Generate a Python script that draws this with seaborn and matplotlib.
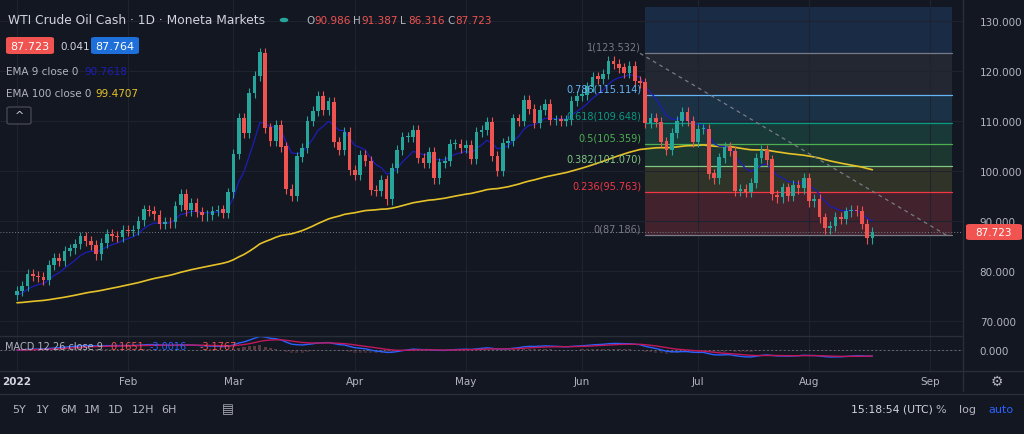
import numpy as np
import pandas as pd
import matplotlib
matplotlib.use("Agg")
import matplotlib.pyplot as plt
from matplotlib.patches import FancyBboxPatch
import seaborn as sns

# ── Data ──────────────────────────────────────────────────────────────────────
closes = [
    # Jan
    76.1, 77.0, 79.5, 79.0, 78.9, 78.2, 81.2, 82.6, 82.0, 84.0, 84.5, 85.4, 86.9, 86.0,
    85.2, 83.3, 85.6, 87.4, 87.0, 86.8, 88.2,
    # Feb
    88.0, 88.3, 90.1, 92.3, 92.0, 91.3, 89.4, 89.8, 89.7, 93.1, 95.4, 92.1, 93.6, 91.8,
    91.1, 91.2, 92.0, 92.3, 91.6, 95.7,
    # Mar
    103.4, 110.6, 107.7, 115.7, 119.0, 123.7, 108.7, 106.0, 109.3, 104.9, 96.4, 95.0,
    102.9, 104.7, 110.0, 112.1, 115.0, 112.3, 113.9, 105.9, 104.2, 107.8, 100.3,
    # Apr
    99.3, 103.3, 102.0, 96.2, 96.0, 98.3, 94.3, 100.6, 104.2, 106.9, 106.9, 108.2, 102.6,
    101.7, 103.8, 98.5, 101.7, 102.0, 105.4, 105.4, 104.7,
    # May
    105.2, 102.4, 107.8, 108.3, 109.8, 103.1, 100.0, 105.7, 106.1, 110.5, 110.1, 114.2,
    112.4, 109.6, 112.2, 113.4, 110.3, 110.3, 110.1, 110.3, 114.1, 115.1,
    # Jun
    115.3, 116.9, 118.9, 118.5, 119.4, 122.1, 121.5, 120.7, 119.6, 121.0, 118.0, 117.7,
    109.6, 110.6, 109.9, 105.9, 104.3, 107.6, 110.0, 111.8, 110.1, 105.8,
    # Jul
    108.4, 108.5, 99.5, 98.5, 102.7, 104.8, 104.0, 96.0, 96.4, 95.8, 97.6, 102.6, 104.2,
    102.3, 95.3, 94.7, 96.7, 95.0, 97.3, 96.5, 98.6,
    # Aug
    93.9, 94.4, 90.7, 88.5, 89.0, 90.8, 90.4, 91.9, 92.3, 92.0, 89.4, 86.5, 87.723,
]
first_open = 75.2
ema100_seed = 73.6
ema9_seed = 75.0

month_labels = ["2022", "Feb", "Mar", "Apr", "May", "Jun", "Jul", "Aug", "Sep"]
month_bars = [0, 21, 41, 64, 85, 107, 129, 150, 173]

price_ticks = [70, 80, 90, 100, 110, 120, 130]

fib_ratios = [0, 0.236, 0.382, 0.5, 0.618, 0.786, 1]
fib_prices = [87.186, 95.763, 101.070, 105.359, 109.648, 115.114, 123.532]
fib_top = 132.8
fib_start, fib_end = 119, 177

last_price = 87.723

# ── Derived series ────────────────────────────────────────────────────────────
df = pd.DataFrame({"bar": np.arange(len(closes)), "close": closes})
df["open"] = df["close"].shift(1).fillna(first_open)
df["high"] = df[["open", "close"]].max(axis=1) + 1.0
df["low"] = df[["open", "close"]].min(axis=1) - 1.0
df["ema100"] = pd.concat([pd.Series([ema100_seed]), df["close"]]).ewm(span=100, adjust=False).mean().iloc[1:].values
df["ema9"] = pd.concat([pd.Series([ema9_seed]), df["close"]]).ewm(span=9, adjust=False).mean().iloc[1:].values
df["macd"] = df["close"].ewm(span=12, adjust=False).mean() - df["close"].ewm(span=26, adjust=False).mean()
df["signal"] = df["macd"].ewm(span=9, adjust=False).mean()
df["hist"] = df["macd"] - df["signal"]

# ── Style ─────────────────────────────────────────────────────────────────────
BG = "#131722"
GRID = "#1f2330"
TXT = "#b2b5be"
UP, DOWN = "#26a69a", "#ef5350"
sns.set_theme(style="dark", rc={"axes.facecolor": BG, "figure.facecolor": BG,
                                "font.family": "DejaVu Sans"})

W, H = 1024, 435
fig = plt.figure(figsize=(W / 100, H / 100), dpi=100)
xl = (-17 / 5.28, 963 / 5.28 - 17 / 5.28)

ax = fig.add_axes([0, 1 - 337 / H, 963 / W, 337 / H])
mx = fig.add_axes([0, 1 - 372 / H, 963 / W, 35 / H])
for a in (ax, mx):
    a.set_facecolor(BG)
    a.set_xlim(*xl)
    for s in a.spines.values():
        s.set_visible(False)
    a.tick_params(length=0)
    a.set_xticks(month_bars)
    a.set_xticklabels([])
    a.grid(True, color=GRID, lw=0.8)

ax.set_ylim(130 - 315 / 5, 130 + 22 / 5)
ax.yaxis.tick_right()
ax.set_yticks(price_ticks)
ax.set_yticklabels([f"{p:.3f}" for p in price_ticks], color=TXT, fontsize=7.5)
ax.tick_params(axis="y", pad=12)

# Fibonacci bands
fib_cols = ["#4a2430", "#363a2a", "#1e3d32", "#1b403d", "#1d364d", "#252a36", "#1c2f4d"]
fib_lines = ["#787b86", "#f23645", "#81c784", "#4caf50", "#089981", "#64b5f6", "#787b86"]
levels = fib_prices + [fib_top]
for i in range(len(levels) - 1):
    ax.fill_between([fib_start, fib_end], levels[i], levels[i + 1],
                    color=fib_cols[i], alpha=0.85, lw=0, zorder=0)
for r, p, c in zip(fib_ratios, fib_prices, fib_lines):
    ax.plot([fib_start, fib_end], [p, p], color=c, lw=0.9, zorder=1)
    ax.text(fib_start - 0.8, p + 0.4, f"{r:g}({p:.3f})", color=c, fontsize=7,
            ha="right", va="bottom", zorder=6)
ax.plot([fib_start - 1, fib_end - 1], [fib_prices[-1], fib_prices[0]],
        color="#787b86", lw=0.9, ls=(0, (3, 3)), zorder=5)

# EMA lines
sns.lineplot(data=df, x="bar", y="ema100", ax=ax, color="#e6c229", lw=1.2, zorder=3)
sns.lineplot(data=df, x="bar", y="ema9", ax=ax, color="#1d1db8", lw=0.9, zorder=3)

# Candles
up = df["close"] >= df["open"]
cols = np.where(up, UP, DOWN)
ax.vlines(df["bar"], df["low"], df["high"], colors=cols, lw=0.8, zorder=4)
ax.bar(df["bar"], (df["close"] - df["open"]).abs().clip(lower=0.15),
       bottom=df[["open", "close"]].min(axis=1), width=0.7, color=cols,
       edgecolor="none", linewidth=0, zorder=4)

ax.axhline(last_price, color="#787b86", lw=0.7, ls=(0, (1, 2)), zorder=2)
ax.set_xlabel("")
ax.set_ylabel("")

# MACD pane
mx.set_ylim(-12, 8)
mx.yaxis.tick_right()
mx.set_yticks([0])
mx.set_yticklabels(["0.000"], color=TXT, fontsize=7.5)
mx.tick_params(axis="y", pad=12)
mx.bar(df["bar"], df["hist"], width=0.6, edgecolor="none", linewidth=0,
       color=np.where(df["hist"] >= 0, "#5b3a3f", "#3b2a33"), zorder=2)
sns.lineplot(data=df, x="bar", y="macd", ax=mx, color="#2962ff", lw=1.0, zorder=3)
sns.lineplot(data=df, x="bar", y="signal", ax=mx, color="#c2185b", lw=1.0, zorder=3)
mx.axhline(0, color="#787b86", lw=0.6, ls=(0, (2, 3)))
mx.set_xlabel("")
mx.set_ylabel("")
ax.set_xlim(*xl)
mx.set_xlim(*xl)

# ── Overlay text / chrome ─────────────────────────────────────────────────────
def px(x, y):
    return x / W, 1 - y / H

fig.add_artist(plt.Line2D([963 / W, 963 / W], [0.1, 1], color="#2a2e39", lw=1))
fig.add_artist(plt.Line2D([0, 1], [1 - 372 / H] * 2, color="#2a2e39", lw=1))
fig.add_artist(plt.Line2D([0, 1], [1 - 395 / H] * 2, color="#2a2e39", lw=1))
fig.add_artist(plt.Line2D([0, 963 / W], [1 - 337 / H] * 2, color="#2a2e39", lw=1))

for lab, b in zip(month_labels, month_bars):
    x = 17 + 5.28 * b
    fig.text(*px(x, 382), lab, color="#d1d4dc" if lab == "2022" else TXT,
             fontsize=7.5, ha="center", va="center",
             fontweight="bold" if lab == "2022" else "normal")

fig.text(*px(8, 21), "WTI Crude Oil Cash · 1D · Moneta Markets", color="#d1d4dc",
         fontsize=8.8, va="center")
fig.add_artist(plt.Circle(px(284, 21), 0.0035, color="#26a69a", transform=fig.transFigure))
x0 = 306
for k, v in [("O", "90.986"), ("H", "91.387"), ("L", "86.316"), ("C", "87.723")]:
    fig.text(*px(x0, 21), k, color=TXT, fontsize=7.5, va="center")
    fig.text(*px(x0 + 8, 21), v, color=DOWN, fontsize=7.5, va="center")
    x0 += 47

def tag(x, y, w, h, s, fc, fs=8):
    fig.add_artist(FancyBboxPatch(px(x, y + h), w / W, h / H, boxstyle="round,pad=0,rounding_size=0.004",
                                  fc=fc, ec="none", transform=fig.transFigure))
    fig.text(*px(x + w / 2, y + h / 2), s, color="white", fontsize=fs, ha="center", va="center")

tag(6, 38, 48, 17, "87.723", "#f05350")
fig.text(*px(60, 47), "0.041", color="#d1d4dc", fontsize=7.5, va="center")
tag(91, 38, 48, 17, "87.764", "#1e6fd9")
fig.text(*px(6, 72), "EMA 9 close 0", color=TXT, fontsize=7.5, va="center")
fig.text(*px(84, 72), "90.7618", color="#1d1db8", fontsize=7.5, va="center")
fig.text(*px(6, 94), "EMA 100 close 0", color=TXT, fontsize=7.5, va="center")
fig.text(*px(95, 94), "99.4707", color="#e6c229", fontsize=7.5, va="center")
fig.add_artist(FancyBboxPatch(px(7, 125), 24 / W, 17 / H, boxstyle="round,pad=0,rounding_size=0.003",
                              fc=BG, ec="#434651", transform=fig.transFigure))
fig.text(*px(19, 116), "^", color="#d1d4dc", fontsize=8, ha="center", va="center")

fig.text(*px(5, 347), "MACD 12 26 close 9", color=TXT, fontsize=7, va="center")
fig.text(*px(110, 347), "0.1651", color=DOWN, fontsize=7, va="center")
fig.text(*px(150, 347), "-3.0016", color="#2962ff", fontsize=7, va="center")
fig.text(*px(200, 347), "-3.1767", color="#f05350", fontsize=7, va="center")

tag(966, 225, 56, 16, f"{last_price:.3f}", "#f05350", fs=7.5)

x0 = 12
for s in ["5Y", "1Y", "6M", "1M", "1D", "12H", "6H"]:
    fig.text(*px(x0, 410), s, color=TXT, fontsize=8, va="center")
    x0 += 24 + 5 * (len(s) - 2)
fig.text(*px(222, 410), "▤", color=TXT, fontsize=9, va="center")
fig.text(*px(851, 410), "15:18:54 (UTC)", color="#d1d4dc", fontsize=7.8, va="center")
fig.text(*px(935, 410), "%", color=TXT, fontsize=8, va="center")
fig.text(*px(959, 410), "log", color=TXT, fontsize=8, va="center")
fig.text(*px(988, 410), "auto", color="#2962ff", fontsize=8, va="center")
fig.text(*px(997, 382), "⚙", color=TXT, fontsize=10, ha="center", va="center")

fig.savefig("out.png", dpi=100, facecolor=BG)
